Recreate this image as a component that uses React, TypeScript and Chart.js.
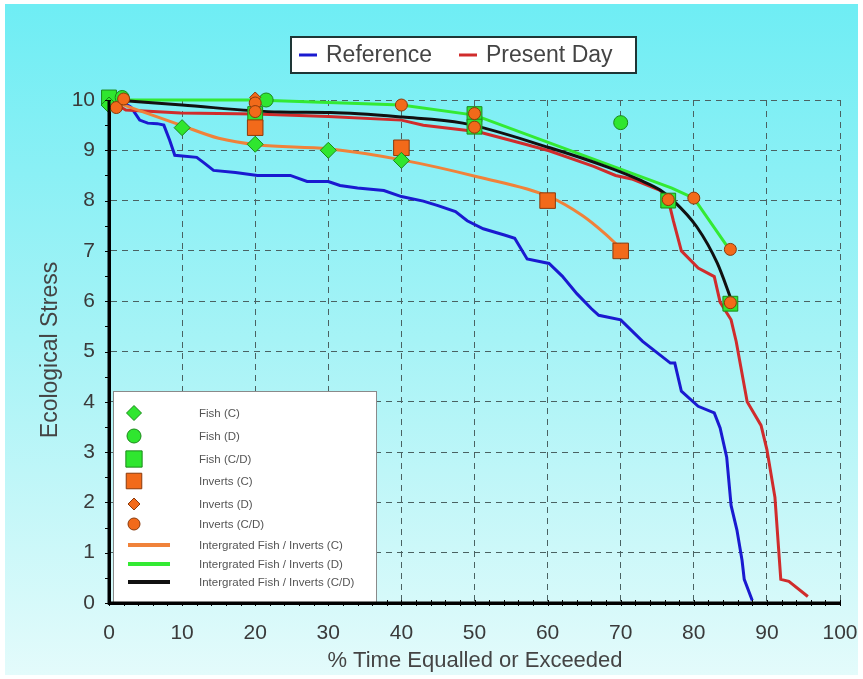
import React, { useEffect, useRef } from 'react';
import { Chart, registerables } from 'chart.js';

Chart.register(...registerables);

// ---------- data ----------
const xTicks = [0, 10, 20, 30, 40, 50, 60, 70, 80, 90, 100];
const yTicks = [0, 1, 2, 3, 4, 5, 6, 7, 8, 9, 10];

const refX = [0, 1, 2.5, 3, 4.2, 5.3, 6.6, 7.5, 8.3, 9, 12, 13, 14.3, 17.3, 20.3, 24.8, 27.1, 30, 31.6, 34, 37.6, 40, 43, 45, 47.4, 49, 51.2, 54.2, 55.5, 57.2, 60.2, 62, 64, 66, 67, 70, 73, 76.8, 77.4, 78.3, 80.6, 82.8, 83.6, 84.5, 85.1, 85.9, 86.6, 86.9, 88];
const refY = [10, 9.95, 9.9, 9.86, 9.6, 9.54, 9.53, 9.5, 9.2, 8.9, 8.86, 8.75, 8.6, 8.56, 8.5, 8.5, 8.38, 8.38, 8.3, 8.25, 8.2, 8.08, 7.99, 7.9, 7.78, 7.6, 7.44, 7.31, 7.25, 6.84, 6.75, 6.5, 6.15, 5.85, 5.72, 5.63, 5.2, 4.77, 4.77, 4.21, 3.91, 3.78, 3.48, 2.9, 1.94, 1.45, 0.85, 0.47, 0.05];

const preX = [0, 2.3, 9.8, 20, 30, 40, 43, 50.5, 57.2, 60.2, 66.3, 69.3, 71.5, 75.3, 76.4, 77.2, 78.3, 80.6, 82.8, 83.6, 85.1, 85.8, 87.3, 89.2, 90, 91.1, 91.9, 93, 95.6];
const preY = [10, 9.8, 9.74, 9.72, 9.67, 9.6, 9.5, 9.37, 9.11, 8.99, 8.68, 8.5, 8.43, 8.21, 8.08, 7.6, 7.0, 6.66, 6.49, 5.98, 5.63, 5.2, 4.0, 3.53, 3.05, 2.1, 0.47, 0.43, 0.13];

const intCX = [1, 3, 9.8, 15, 20.3, 30, 40, 50.5, 60.2, 64.8, 67.8, 70];
const intCY = [9.95, 9.85, 9.5, 9.24, 9.11, 9.03, 8.81, 8.47, 8.08, 7.7, 7.35, 7.05];

const intDX = [1, 20, 40, 50, 77, 80, 85];
const intDY = [10, 10, 9.9, 9.7, 8.25, 8.05, 7.0];

const intCDX = [1, 10, 23.4, 30.3, 40.2, 48.4, 60.3, 68.5, 72.6, 75.4, 77.2, 80.4, 83.2, 85.2];
const intCDY = [10, 9.9, 9.76, 9.75, 9.66, 9.54, 9.05, 8.65, 8.41, 8.21, 8.0, 7.48, 6.76, 6.0];

const fishCX = [0, 10, 20, 30, 40];
const fishCY = [9.9, 9.45, 9.12, 9.0, 8.8];
const fishDX = [1.8, 21.5, 70];
const fishDY = [10.05, 10.0, 9.55];
const fishCDX = [0, 20, 50, 50, 76.5, 85];
const fishCDY = [10.05, 9.72, 9.72, 9.47, 8.0, 5.95];
const invCX = [20, 40, 60, 70];
const invCY = [9.45, 9.05, 8.0, 7.0];
const invDX = [20];
const invDY = [10.05];
const invCDX = [1, 2, 20, 20, 40, 50, 50, 76.5, 80, 85, 85];
const invCDY = [9.85, 10.02, 9.94, 9.77, 9.9, 9.73, 9.46, 8.02, 8.05, 7.03, 5.97];

const pts = (xs: number[], ys: number[]) => xs.map((x, i) => ({ x, y: ys[i] }));

// ---------- styles ----------
const GREEN = '#2fe62f';
const GREEN_EDGE = '#1a8a1a';
const ORANGE = '#f26a1a';
const ORANGE_EDGE = '#8a3a0c';
const FONT = "'Liberation Sans', Arial, sans-serif";

type MarkerDef = { label: string; xs: number[]; ys: number[]; style: string; r: number; legR: number; fill: string; edge: string; order: number };
const markerDefs: MarkerDef[] = [
  { label: 'Fish (C)', xs: fishCX, ys: fishCY, style: 'rectRot', r: 8, legR: 7.5, fill: GREEN, edge: GREEN_EDGE, order: 2 },
  { label: 'Fish (D)', xs: fishDX, ys: fishDY, style: 'circle', r: 7, legR: 7, fill: GREEN, edge: GREEN_EDGE, order: 2 },
  { label: 'Fish (C/D)', xs: fishCDX, ys: fishCDY, style: 'rect', r: 10.5, legR: 11.5, fill: GREEN, edge: GREEN_EDGE, order: 4 },
  { label: 'Inverts (C)', xs: invCX, ys: invCY, style: 'rect', r: 11, legR: 11, fill: ORANGE, edge: ORANGE_EDGE, order: 3 },
  { label: 'Inverts (D)', xs: invDX, ys: invDY, style: 'rectRot', r: 5.5, legR: 6, fill: ORANGE, edge: ORANGE_EDGE, order: 1 },
  { label: 'Inverts (C/D)', xs: invCDX, ys: invCDY, style: 'circle', r: 6, legR: 6, fill: ORANGE, edge: ORANGE_EDGE, order: 0 },
];

type LineDef = { label: string; xs: number[]; ys: number[]; color: string; width: number; smooth: boolean; order: number };
const intLines: LineDef[] = [
  { label: 'Intergrated Fish / Inverts (C)', xs: intCX, ys: intCY, color: '#f0823a', width: 3, smooth: true, order: 6 },
  { label: 'Intergrated Fish / Inverts (D)', xs: intDX, ys: intDY, color: '#33ea33', width: 3, smooth: false, order: 6 },
  { label: 'Intergrated Fish / Inverts (C/D)', xs: intCDX, ys: intCDY, color: '#111111', width: 3, smooth: true, order: 5 },
];
const mainLines: LineDef[] = [
  { label: 'Reference', xs: refX, ys: refY, color: '#1a1ad0', width: 3, smooth: false, order: 8 },
  { label: 'Present Day', xs: preX, ys: preY, color: '#d02c2c', width: 3, smooth: false, order: 7 },
];

function drawMarker(ctx: CanvasRenderingContext2D, style: string, x: number, y: number, r: number, fill: string, edge: string) {
  ctx.beginPath();
  if (style === 'circle') ctx.arc(x, y, r, 0, Math.PI * 2);
  else if (style === 'rect') {
    const s = r * Math.SQRT1_2;
    ctx.rect(x - s, y - s, 2 * s, 2 * s);
  } else {
    ctx.moveTo(x, y - r);
    ctx.lineTo(x + r, y);
    ctx.lineTo(x, y + r);
    ctx.lineTo(x - r, y);
    ctx.closePath();
  }
  ctx.fillStyle = fill;
  ctx.fill();
  ctx.lineWidth = 1;
  ctx.strokeStyle = edge;
  ctx.stroke();
}

const bgPlugin = {
  id: 'bgPlugin',
  beforeDraw(chart: any) {
    const { ctx, width, height } = chart;
    ctx.save();
    ctx.fillStyle = '#ffffff';
    ctx.fillRect(0, 0, width, height);
    const g = ctx.createLinearGradient(0, 0, 0, height);
    g.addColorStop(0, '#6eedf4');
    g.addColorStop(0.5, '#a6f3f6');
    g.addColorStop(1, '#e4fbfb');
    ctx.fillStyle = g;
    ctx.fillRect(5, 4, width - 10, height - 8);
    ctx.restore();
  },
  afterDatasetsDraw(chart: any) {
    // minor tick marks on the axes
    const { ctx, chartArea } = chart;
    const xs = chart.scales.x;
    const ys = chart.scales.y;
    ctx.save();
    ctx.strokeStyle = '#000000';
    ctx.lineWidth = 1;
    ctx.beginPath();
    for (let v = 0; v <= 100; v += 2) {
      const px = Math.round(xs.getPixelForValue(v)) + 0.5;
      ctx.moveTo(px, chartArea.bottom - 3);
      ctx.lineTo(px, chartArea.bottom + 3);
    }
    for (let i = 0; i <= 20; i++) {
      const py = Math.round(ys.getPixelForValue(i * 0.5)) + 0.5;
      ctx.moveTo(chartArea.left - 4, py);
      ctx.lineTo(chartArea.left + 2, py);
    }
    ctx.stroke();
    ctx.restore();
  },
  afterDraw(chart: any) {
    const { ctx } = chart;
    ctx.save();
    // axis titles
    ctx.fillStyle = '#444444';
    ctx.font = `22px ${FONT}`;
    ctx.textAlign = 'center';
    ctx.textBaseline = 'middle';
    ctx.fillText('% Time Equalled or Exceeded', 475, 661);
    ctx.save();
    ctx.translate(51, 350);
    ctx.rotate(-Math.PI / 2);
    ctx.font = `23px ${FONT}`;
    ctx.fillText('Ecological Stress', 0, 0);
    ctx.restore();

    // top legend
    ctx.fillStyle = '#ffffff';
    ctx.fillRect(291, 37, 345, 36);
    ctx.lineWidth = 2;
    ctx.strokeStyle = '#1e3636';
    ctx.strokeRect(291, 37, 345, 36);
    ctx.textAlign = 'left';
    ctx.font = `23px ${FONT}`;
    const topItems = [
      { def: mainLines[0], x: 299 },
      { def: mainLines[1], x: 459 },
    ];
    topItems.forEach(({ def, x }) => {
      ctx.strokeStyle = def.color;
      ctx.lineWidth = 3;
      ctx.beginPath();
      ctx.moveTo(x, 55);
      ctx.lineTo(x + 18, 55);
      ctx.stroke();
      ctx.fillStyle = '#444444';
      ctx.fillText(def.label, x + 27, 56);
    });

    // bottom-left legend
    ctx.fillStyle = '#ffffff';
    ctx.fillRect(113, 391, 264, 212);
    ctx.lineWidth = 1;
    ctx.strokeStyle = '#8a8a8a';
    ctx.strokeRect(113.5, 391.5, 263, 211);
    const rows = [413, 436, 459, 481, 504, 524, 545, 564, 582];
    ctx.font = `11.5px ${FONT}`;
    markerDefs.forEach((m, i) => {
      drawMarker(ctx, m.style, 134, rows[i], m.legR, m.fill, m.edge);
      ctx.fillStyle = '#555555';
      ctx.fillText(m.label, 199, rows[i] + 1);
    });
    intLines.forEach((l, i) => {
      const y = rows[6 + i];
      ctx.strokeStyle = l.color;
      ctx.lineWidth = 4;
      ctx.beginPath();
      ctx.moveTo(128, y);
      ctx.lineTo(170, y);
      ctx.stroke();
      ctx.fillStyle = '#555555';
      ctx.fillText(l.label, 199, y + 1);
    });
    // redraw the solid axes over the legend box edge
    const ca = chart.chartArea;
    ctx.strokeStyle = '#000000';
    ctx.lineWidth = 3;
    ctx.beginPath();
    ctx.moveTo(ca.left, ca.top);
    ctx.lineTo(ca.left, ca.bottom);
    ctx.lineTo(ca.right, ca.bottom);
    ctx.stroke();
    ctx.restore();
  },
};

export default function App() {
  const canvasRef = useRef<HTMLCanvasElement>(null);
  useEffect(() => {
    document.body.style.margin = '0';
    const datasets: any[] = [];
    mainLines.concat(intLines).forEach((l) => {
      datasets.push({
        label: l.label,
        data: pts(l.xs, l.ys),
        showLine: true,
        borderColor: l.color,
        backgroundColor: l.color,
        borderWidth: l.width,
        pointRadius: 0,
        pointHoverRadius: 0,
        tension: 0,
        cubicInterpolationMode: l.smooth ? 'monotone' : 'default',
        order: l.order,
        clip: false,
      });
    });
    markerDefs.forEach((m) => {
      datasets.push({
        label: m.label,
        data: pts(m.xs, m.ys),
        showLine: false,
        pointStyle: m.style,
        pointRadius: m.r,
        pointHoverRadius: m.r,
        pointBackgroundColor: m.fill,
        pointBorderColor: m.edge,
        pointBorderWidth: 1,
        order: m.order,
        clip: false,
      });
    });

    const tickFont = { family: FONT, size: 21 };
    const chart = new Chart(canvasRef.current!, {
      type: 'scatter',
      data: { datasets },
      plugins: [bgPlugin],
      options: {
        responsive: false,
        animation: false,
        events: [],
        layout: { padding: { left: 0, right: 23, top: 100, bottom: 0 } },
        plugins: { legend: { display: false }, tooltip: { enabled: false }, title: { display: false } },
        scales: {
          x: {
            type: 'linear',
            min: 0,
            max: 100,
            afterFit: (s: any) => { s.height = 76; s.paddingLeft = 0; s.paddingRight = 0; },
            afterBuildTicks: (s: any) => { s.ticks = xTicks.map((v) => ({ value: v })); },
            ticks: { font: tickFont, color: '#3a3a3a', padding: 18, maxRotation: 0 },
            grid: { color: '#4a6262', lineWidth: 1, drawTicks: false },
            border: { display: true, color: '#000000', width: 3, dash: [6, 5] },
          },
          y: {
            type: 'linear',
            min: 0,
            max: 10,
            afterFit: (s: any) => { s.width = 109; s.paddingTop = 0; s.paddingBottom = 0; },
            afterBuildTicks: (s: any) => { s.ticks = yTicks.map((v) => ({ value: v })); },
            ticks: { font: tickFont, color: '#3a3a3a', padding: 14 },
            grid: { color: '#4a6262', lineWidth: 1, drawTicks: false },
            border: { display: true, color: '#000000', width: 3, dash: [6, 5] },
          },
        },
      } as any,
    });
    return () => chart.destroy();
  }, []);
  return (
    <div style={{ width: 863, height: 679 }}>
      <canvas ref={canvasRef} width={863} height={679} style={{ display: 'block' }} />
    </div>
  );
}
